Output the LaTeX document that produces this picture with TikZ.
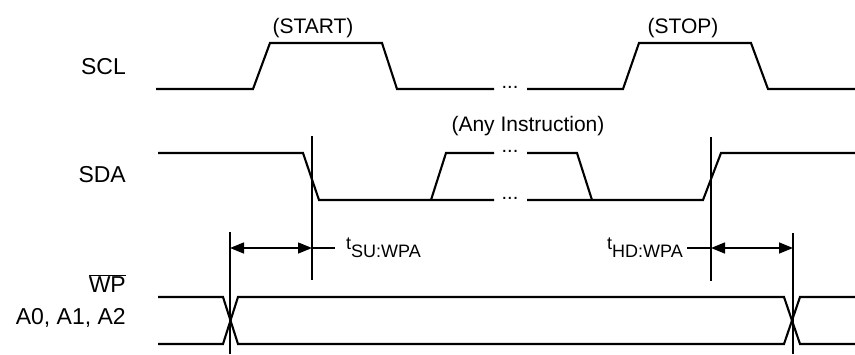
\documentclass[tikz,border=0pt]{standalone}
\usepackage{fontspec}
\setmainfont{Liberation Sans}
\usetikzlibrary{arrows.meta, positioning}

\begin{document}
\begin{tikzpicture}[x=1pt,y=-1pt,>={Triangle[length=14pt,width=11pt]},
    sig/.style={line width=2.1pt},
    tick/.style={line width=1.5pt},
    signame/.style={font=\fontsize{23}{26}\selectfont, anchor=base east, inner sep=0pt},
    note/.style={font=\fontsize{21}{24}\selectfont, anchor=base, inner sep=0pt},
    ellip/.style={font=\fontsize{20}{22}\selectfont, anchor=base, inner sep=0pt},
    tlabel/.style={font=\fontsize{18}{20}\selectfont, inner sep=0pt}]
\useasboundingbox (0,0) rectangle (855,354);
% signal names
\node[signame] (scl) at (126,74) {SCL};
\node[signame] (sda) at (126,182) {SDA};
\node[signame] (wp) at (126,292) {$\overline{\hbox{WP}}$};
\node[signame] (addr) at (126,324) {A0, A1, A2};
\node[note] (start) at (313,33) {(START)};
\node[note] (stop) at (683,33) {(STOP)};
\node[note] (instr) at (528,131) {(Any Instruction)};
% SCL
\draw[sig] (156,89)--(253,89)--(270,43)--(382,43)--(397,89)--(494,89);
\node[ellip] (dscl) at (510,88.5) {...};
\draw[sig] (527,89)--(623,89)--(639,43)--(751,43)--(768,89)--(855,89);
% SDA
\draw[sig] (158,153)--(303,153)--(319,200)--(494,200);
\draw[sig] (431,200)--(446,153)--(494,153);
\node[ellip] (dsdah) at (510,152.5) {...};
\node[ellip] (dsdal) at (510,199.5) {...};
\draw[sig] (527,153)--(577,153)--(592,200);
\draw[sig] (527,200)--(703,200)--(721,153)--(855,153);
% WP, A0-A2
\draw[sig] (158,297)--(223,297)--(238,344)--(784,344)--(800,297)--(855,297);
\draw[sig] (158,344)--(223,344)--(238,297)--(784,297)--(800,344)--(855,344);
% timing marks
\coordinate (v1t) at (312,136); \coordinate (v1b) at (312,280);
\coordinate (v2t) at (711,137); \coordinate (v2b) at (711,281);
\coordinate (v3t) at (230,232); \coordinate (v3b) at (230,354);
\coordinate (v4t) at (793,233); \coordinate (v4b) at (793,354);
\draw[tick] (v1t)--(v1b);
\draw[tick] (v2t)--(v2b);
\draw[tick] (v3t)--(v3b);
\draw[tick] (v4t)--(v4b);
\coordinate (su1) at (230,248); \coordinate (su2) at (312,248);
\coordinate (hd1) at (711,248); \coordinate (hd2) at (793,248);
\draw[tick,<->] (su1)--(su2);
\draw[tick,<->] (hd1)--(hd2);
\node[tlabel, anchor=west] (tsu) at (346,248) {t\raisebox{-8pt}{SU:WPA}};
\node[tlabel, anchor=east] (thd) at (683,248) {t\raisebox{-8pt}{HD:WPA}};
\draw[tick] (su2)--([xshift=-11pt]tsu.west);
\draw[tick] ([xshift=4pt]thd.east)--(hd1);
\end{tikzpicture}
\end{document}
